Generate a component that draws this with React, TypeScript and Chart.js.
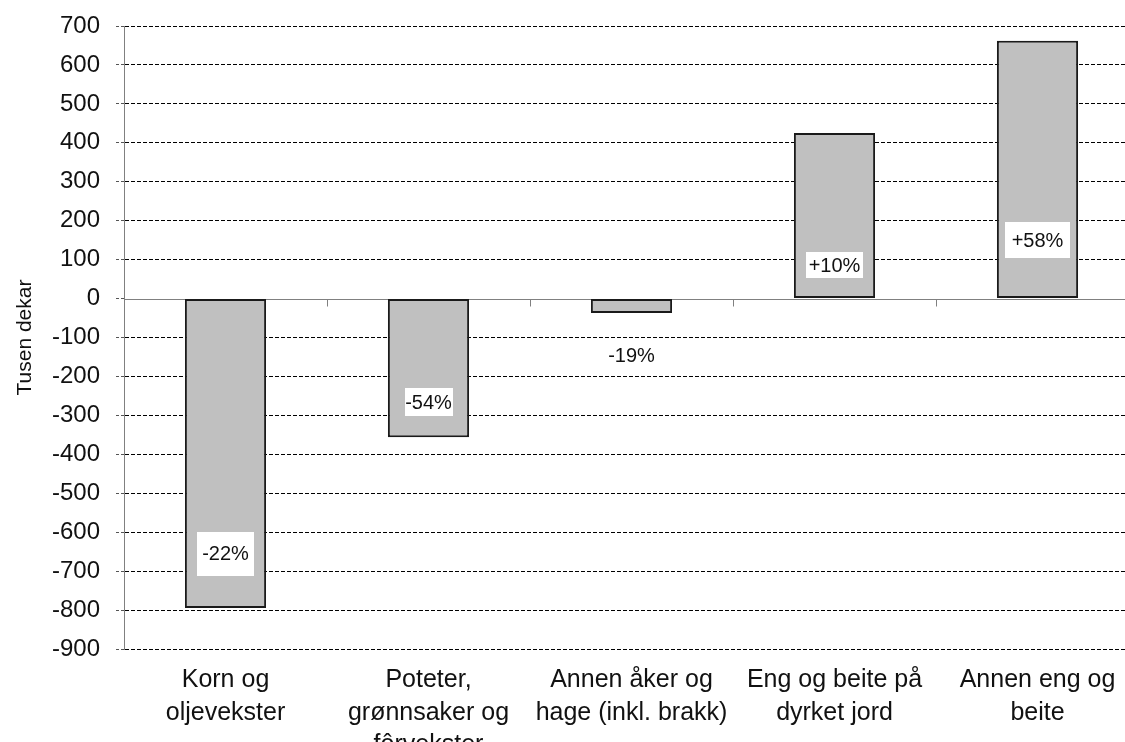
import React, { useEffect, useRef } from "react";
import { Chart, registerables } from "chart.js";

Chart.register(...registerables);

// ---- data ----
const categories: string[][] = [
  ["Korn og", "oljevekster"],
  ["Poteter,", "grønnsaker og", "fôrvekster"],
  ["Annen åker og", "hage (inkl. brakk)"],
  ["Eng og beite på", "dyrket jord"],
  ["Annen eng og", "beite"],
];
const changeValues = [-795, -356, -37, 425, 662];
const percentLabels = ["-22%", "-54%", "-19%", "+10%", "+58%"];
const percentLabelAt = [-655, -266, -145, 86, 150];
const yMin = -900;
const yMax = 700;
const yStep = 100;
const yTitle = "Tusen dekar";

// ---- styles ----
const FONT = "'Liberation Sans', Arial, Helvetica, sans-serif";
const labelBoxSizes: [number, number][] = [
  [57, 44],
  [48, 28],
  [0, 0],
  [57, 26],
  [65, 36],
];

const overlayPlugin = {
  id: "overlay",
  beforeDatasetsDraw(chart: any) {
    const { ctx, chartArea, scales } = chart;
    const x = scales.x;
    const y = scales.y;
    const y0 = Math.round(y.getPixelForValue(0)) + 0.5;
    ctx.save();
    ctx.setLineDash([]);
    ctx.strokeStyle = "#808080";
    ctx.lineWidth = 1;
    ctx.beginPath();
    ctx.moveTo(chartArea.left, y0);
    ctx.lineTo(chartArea.right, y0);
    for (let i = 0; i <= categories.length; i++) {
      const px = Math.round(x.getPixelForValue(i - 0.5)) + 0.5;
      ctx.moveTo(px, y0);
      ctx.lineTo(px, y0 + 7);
    }
    ctx.stroke();
    ctx.restore();
  },
  afterDatasetsDraw(chart: any) {
    const { ctx, scales } = chart;
    const x = scales.x;
    const y = scales.y;
    ctx.save();
    ctx.font = `20px ${FONT}`;
    ctx.textAlign = "center";
    ctx.textBaseline = "middle";
    percentLabels.forEach((txt, i) => {
      const cx = x.getPixelForValue(i);
      const cy = y.getPixelForValue(percentLabelAt[i]);
      const [w, h] = labelBoxSizes[i];
      if (w > 0) {
        ctx.fillStyle = "#ffffff";
        ctx.fillRect(Math.round(cx - w / 2), Math.round(cy - h / 2), w, h);
      }
      ctx.fillStyle = "#111111";
      ctx.fillText(txt, cx, cy + 1);
    });
    ctx.restore();
  },
};

export default function App() {
  const canvasRef = useRef<HTMLCanvasElement | null>(null);

  useEffect(() => {
    if (!canvasRef.current) return;
    const chart = new Chart(canvasRef.current, {
      type: "bar",
      data: {
        labels: categories,
        datasets: [
          {
            data: changeValues,
            backgroundColor: "#c0c0c0",
            borderColor: "#1a1a1a",
            borderWidth: 2,
            borderSkipped: false,
            barPercentage: 0.4,
            categoryPercentage: 1,
          },
        ],
      },
      options: {
        animation: false,
        responsive: true,
        maintainAspectRatio: false,
        layout: { padding: { top: 26, right: 6, left: 0, bottom: 0 } },
        plugins: {
          legend: { display: false },
          tooltip: { enabled: false },
        },
        scales: {
          x: {
            offset: true,
            grid: { display: false, drawTicks: false },
            border: { display: false },
            ticks: {
              color: "#111",
              padding: 15,
              maxRotation: 0,
              autoSkip: false,
              font: { family: FONT, size: 25, lineHeight: 1.3 },
            },
            afterFit(scale: any) {
              scale.height = 93;
              scale.paddingLeft = 0;
              scale.paddingRight = 0;
            },
          },
          y: {
            min: yMin,
            max: yMax,
            grid: {
              color: (c: any) => (c.tick && c.tick.value === 0 ? "rgba(0,0,0,0)" : "#000"),
              lineWidth: 1,
              tickLength: 8,
              tickColor: "#555",
              tickBorderDash: [3, 2],
            },
            border: { display: true, color: "#808080", width: 1, dash: [4, 2] },
            ticks: {
              stepSize: yStep,
              color: "#111",
              padding: 16,
              font: { family: FONT, size: 24 },
            },
            title: {
              display: true,
              text: yTitle,
              color: "#111",
              padding: { top: 13, bottom: 0 },
              font: { family: FONT, size: 21 },
            },
            afterFit(scale: any) {
              scale.width = 124;
              scale.paddingTop = 0;
              scale.paddingBottom = 0;
            },
          },
        },
      },
      plugins: [overlayPlugin],
    });
    return () => chart.destroy();
  }, []);

  return (
    <div
      style={{
        position: "fixed",
        left: 0,
        top: 0,
        width: 1125,
        height: 742,
        overflow: "hidden",
        background: "#fff",
      }}
    >
      <div style={{ position: "relative", width: 1145, height: 742 }}>
        <canvas ref={canvasRef} />
      </div>
    </div>
  );
}
